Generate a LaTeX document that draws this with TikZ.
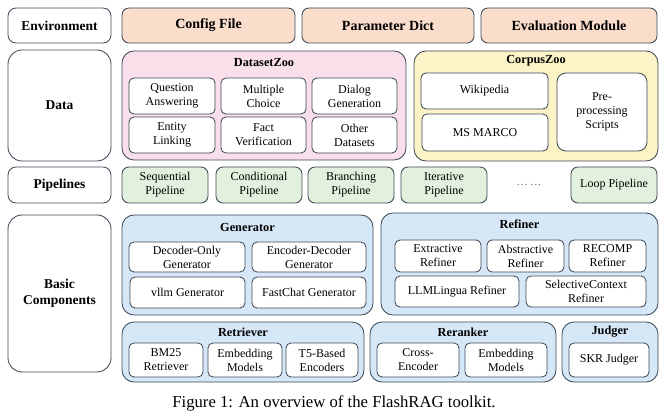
\documentclass[tikz,border=0pt]{standalone}
\usepackage{fontspec}
\setmainfont{Liberation Serif}
\begin{document}
\begin{tikzpicture}[x=1pt,y=1pt,
  base/.style={draw=edgec, line width=0.85pt, inner sep=0pt, outer sep=0pt, align=center},
  lab/.style={base, rounded corners=8pt, fill=white, font=\fontsize{13.5}{16}\selectfont\bfseries},
  biglab/.style={lab, rounded corners=14pt},
  env/.style={base, rounded corners=7pt, fill=envc, font=\fontsize{14}{16}\selectfont\bfseries},
  pipe/.style={base, rounded corners=7pt, fill=pipec, font=\fontsize{12}{14}\selectfont},
  cont/.style={base, rounded corners=12pt},
  item/.style={base, rounded corners=5pt, fill=white, font=\fontsize{12}{14}\selectfont},
  ttl/.style={inner sep=0pt, font=\fontsize{12.3}{14}\selectfont\bfseries}
]
\definecolor{edgec}{RGB}{62,72,86}
\definecolor{envc}{RGB}{250,221,202}
\definecolor{pinkc}{RGB}{248,223,233}
\definecolor{yelc}{RGB}{252,243,198}
\definecolor{pipec}{RGB}{226,241,221}
\definecolor{bluec}{RGB}{214,232,247}
\newcommand\bx[7]{\node[#6, minimum width={(#4-#2)*1pt}, minimum height={(#5-#3)*1pt}] (#1) at ({(#2+#4)/2},{-(#3+#5)/2}) {#7};}
\useasboundingbox (0,0) rectangle (669,-419);
% row labels
\bx{envl}{8}{8}{111}{43}{lab}{Environment}
\bx{datal}{8}{50}{111}{161}{biglab}{Data}
\bx{pipel}{8}{167}{111}{203}{lab}{Pipelines}
\bx{basl}{8}{215}{111}{372}{biglab}{Basic\\Components}
% environment
\bx{cfg}{122}{8}{295}{43}{env}{Config File}
\bx{par}{302}{8}{474}{43}{env}{Parameter Dict}
\bx{evl}{481}{8}{657}{43}{env}{Evaluation Module}
% DatasetZoo
\bx{dz}{122}{51}{406}{160}{cont, fill=pinkc}{}
\node[ttl] (dzt) at ([yshift=-12pt]dz.north) {DatasetZoo};
\bx{qa}{129}{78}{215}{114}{item}{Question\\Answering}
\bx{mc}{221}{78}{306}{114}{item}{Multiple\\Choice}
\bx{dg}{312}{78}{397}{114}{item}{Dialog\\Generation}
\bx{el}{129}{117}{215}{153}{item}{Entity\\Linking}
\bx{fv}{221}{117}{306}{153}{item}{Fact\\Verification}
\bx{od}{312}{117}{397}{153}{item}{Other\\Datasets}
% CorpusZoo
\bx{cz}{414}{51}{658}{161}{cont, fill=yelc}{}
\node[ttl] (czt) at ([yshift=-10pt]cz.north) {CorpusZoo};
\bx{wiki}{421}{73}{548}{109}{item}{Wikipedia}
\bx{msm}{422}{114}{548}{151}{item}{MS MARCO}
\bx{pre}{557}{73}{647}{151}{item, rounded corners=9pt}{Pre-\\processing\\Scripts}
% Pipelines
\bx{seq}{122}{167}{208}{203}{pipe}{Sequential\\Pipeline}
\bx{con}{216}{167}{302}{203}{pipe}{Conditional\\Pipeline}
\bx{bra}{308}{167}{394}{203}{pipe}{Branching\\Pipeline}
\bx{ite}{401}{167}{487}{203}{pipe}{Iterative\\Pipeline}
\node[font=\fontsize{11}{13}\selectfont, text=black!60] (dots) at (529,-185) {\dots\ \dots};
\bx{loop}{571}{167}{657}{203}{pipe}{Loop Pipeline}
% Generator
\bx{gen}{122}{215}{373}{315}{cont, fill=bluec}{}
\node[ttl] (gent) at ([yshift=-12pt]gen.north) {Generator};
\bx{dec}{129}{242}{245}{272}{item}{Decoder-Only\\Generator}
\bx{encd}{252}{242}{366}{272}{item}{Encoder-Decoder\\Generator}
\bx{vllm}{130}{277}{245}{308}{item}{vllm Generator}
\bx{fast}{252}{277}{366}{308}{item}{FastChat Generator}
% Refiner
\bx{ref}{381}{213}{658}{315}{cont, fill=bluec}{}
\node[ttl] (reft) at ([yshift=-11pt]ref.north) {Refiner};
\bx{ext}{395}{240}{481}{272}{item}{Extractive\\Refiner}
\bx{abs}{487}{240}{564}{272}{item}{Abstractive\\Refiner}
\bx{rec}{569}{240}{646}{272}{item}{RECOMP\\Refiner}
\bx{llm}{395}{276}{519}{307}{item}{LLMLingua Refiner}
\bx{sel}{526}{276}{646}{307}{item}{SelectiveContext\\Refiner}
% Retriever
\bx{ret}{122}{322}{364}{382}{cont, fill=bluec}{}
\node[ttl] (rett) at ([yshift=-10pt]ret.north) {Retriever};
\bx{bm}{129}{343}{203}{377}{item}{BM25\\Retriever}
\bx{emb}{208}{343}{282}{377}{item}{Embedding\\Models}
\bx{t5}{286}{343}{358}{377}{item}{T5-Based\\Encoders}
% Reranker
\bx{rr}{370}{322}{556}{382}{cont, fill=bluec}{}
\node[ttl] (rrt) at ([yshift=-10pt]rr.north) {Reranker};
\bx{ce}{377}{343}{459}{377}{item}{Cross-\\Encoder}
\bx{emb2}{465}{343}{547}{377}{item}{Embedding\\Models}
% Judger
\bx{jd}{562}{322}{658}{382}{cont, fill=bluec}{}
\node[ttl] (jdt) at ([yshift=-10pt]jd.north) {Judger};
\bx{skr}{569}{343}{649}{377}{item}{SKR Judger}
% caption
\node[font=\fontsize{16.7}{20}\selectfont] (cap) at (334,-403) {Figure 1: An overview of the FlashRAG toolkit.};
\end{tikzpicture}
\end{document}
